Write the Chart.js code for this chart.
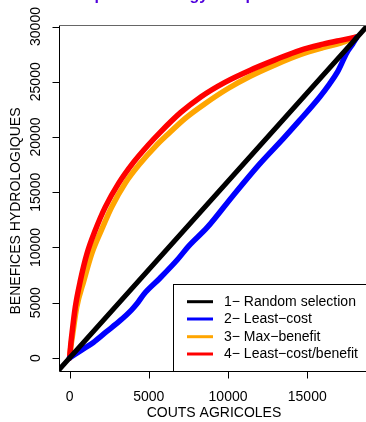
<!DOCTYPE html>
<html>
<head>
<meta charset="utf-8">
<script src="https://cdn.jsdelivr.net/npm/chart.js@4/dist/chart.umd.min.js"></script>
<style>
html,body{margin:0;padding:0;background:#fff;overflow:hidden;width:366px;height:422px;}
canvas{display:block;}
</style>
</head>
<body>
<canvas id="c" width="380" height="422"></canvas>
<script>
// ---- data ----
const chartTitle = "Optimal strategy comparison";
const xAxisTitle = "COUTS AGRICOLES";
const yAxisTitle = "BENEFICES HYDROLOGIQUES";
const xTicks = [0, 5000, 10000, 15000];
const yTicks = [0, 5000, 10000, 15000, 20000, 25000, 30000];
const seriesLabels = ["1\u2212 Random selection", "2\u2212 Least\u2212cost", "3\u2212 Max\u2212benefit", "4\u2212 Least\u2212cost/benefit"];
const seriesColors = ["#000000", "#0000ff", "#ffa500", "#ff0000"];

const randomX = [-2000, 20000];
const randomY = [-3200, 32000];

const leastCostX = [0, 700, 1500, 2350, 3200, 3900, 4300, 4700, 5700, 6800, 7500, 8700, 10300, 12000, 13500, 14500, 15800, 16400, 16900, 17300, 17500, 17850, 18120];
const leastCostY = [0, 667, 1404, 2402, 3400, 4340, 5000, 5800, 7220, 8889, 10100, 11838, 14670, 17571, 19880, 21480, 23651, 24792, 25863, 27046, 27638, 28379, 28992];

const maxBenefitX = [0, 80, 200, 450, 900, 1400, 2000, 2650, 3500, 4450, 5450, 6150, 7300, 8500, 10000, 11400, 13000, 14550, 16000, 17100, 18100];
const maxBenefitY = [0, 1000, 2200, 4600, 7000, 9450, 11550, 13650, 15800, 17600, 19200, 20170, 21690, 22970, 24390, 25500, 26550, 27450, 28080, 28500, 29050];

const ratioX = [0, 60, 150, 360, 680, 1100, 1620, 2250, 3090, 4030, 4980, 5700, 7000, 8300, 9800, 11400, 13000, 14550, 16000, 17100, 18100];
const ratioY = [0, 1000, 2200, 4600, 7000, 9450, 11550, 13650, 15800, 17700, 19300, 20400, 22200, 23650, 24950, 26050, 27000, 27850, 28400, 28750, 29050];

const xMin = -668, xMax = 18897;
const yMin = -1177, yMax = 30136;

function pts(xs, ys){ return xs.map((x,i)=>({x:x, y:ys[i]})); }

const FONT = '"Liberation Sans", Arial, sans-serif';

const decor = {
  id: 'decor',
  afterDatasetsDraw(chart){
    const ctx = chart.ctx;
    const a = chart.chartArea;
    const xs = chart.scales.x, ys = chart.scales.y;
    ctx.save();
    const L = Math.round(a.left)+0.5, B = Math.round(a.bottom)+0.5, T = Math.round(a.top)+0.5, R = Math.round(a.right)+0.5;
    ctx.lineWidth = 1;
    ctx.strokeStyle = '#000';
    ctx.beginPath();
    ctx.moveTo(L, T); ctx.lineTo(L, B); ctx.lineTo(R, B); ctx.lineTo(R, T);
    ctx.stroke();
    ctx.strokeStyle = '#666';
    ctx.beginPath(); ctx.moveTo(L, T); ctx.lineTo(R, T); ctx.stroke();
    ctx.strokeStyle = '#000';
    ctx.beginPath();
    yTicks.forEach(v=>{ const p = Math.round(ys.getPixelForValue(v))+0.5; ctx.moveTo(L-7, p); ctx.lineTo(L, p); });
    xTicks.forEach(v=>{ const p = Math.round(xs.getPixelForValue(v))+0.5; ctx.moveTo(p, B); ctx.lineTo(p, B+7); });
    ctx.stroke();
    ctx.fillStyle = '#000';
    ctx.font = '14px ' + FONT;
    ctx.textAlign = 'center';
    ctx.textBaseline = 'middle';
    xTicks.forEach(v=>{ ctx.fillText(String(v), xs.getPixelForValue(v), 397); });
    yTicks.forEach(v=>{
      ctx.save();
      ctx.translate(36, ys.getPixelForValue(v));
      ctx.rotate(-Math.PI/2);
      ctx.fillText(String(v), 0, 0);
      ctx.restore();
    });
    ctx.fillText(xAxisTitle, (a.left+a.right)/2, 413);
    ctx.save();
    ctx.translate(16.5, 211);
    ctx.rotate(-Math.PI/2);
    ctx.fillText(yAxisTitle, 0, 0);
    ctx.restore();
    // main title, mostly cut off above the top edge
    ctx.font = 'bold 16px ' + FONT;
    ctx.fillStyle = '#5000dc';
    ctx.textAlign = 'left';
    ctx.textBaseline = 'alphabetic';
    ctx.fillText(chartTitle, 82, -0.5);
    // legend
    const lx = 173.5, ly = 284.5;
    ctx.fillStyle = '#fff';
    ctx.fillRect(lx, ly, R - lx, B - ly);
    ctx.strokeStyle = '#000';
    ctx.lineWidth = 1;
    ctx.strokeRect(lx, ly, R - lx + 5, B - ly);
    const rows = [301.7, 319, 336.7, 354];
    ctx.font = '14px ' + FONT;
    ctx.textBaseline = 'middle';
    seriesLabels.forEach((lab, i)=>{
      ctx.strokeStyle = seriesColors[i];
      ctx.lineWidth = 3;
      ctx.beginPath(); ctx.moveTo(187, rows[i]); ctx.lineTo(213, rows[i]); ctx.stroke();
      ctx.fillStyle = '#000';
      ctx.fillText(lab, 224, rows[i]);
    });
    ctx.restore();
  }
};

new Chart(document.getElementById('c'), {
  type: 'line',
  data: {
    datasets: [
      { label: seriesLabels[0], data: pts(randomX, randomY), borderColor: seriesColors[0], borderWidth: 5, order: 0 },
      { label: seriesLabels[1], data: pts(leastCostX, leastCostY), borderColor: seriesColors[1], borderWidth: 5.5, order: 1, cubicInterpolationMode: 'monotone' },
      { label: seriesLabels[2], data: pts(maxBenefitX, maxBenefitY), borderColor: seriesColors[2], borderWidth: 5.5, order: 3, cubicInterpolationMode: 'monotone' },
      { label: seriesLabels[3], data: pts(ratioX, ratioY), borderColor: seriesColors[3], borderWidth: 5.5, order: 2, cubicInterpolationMode: 'monotone' }
    ]
  },
  options: {
    responsive: false,
    animation: false,
    devicePixelRatio: 1,
    layout: { padding: { left: 59, top: 25, right: 11, bottom: 51 } },
    elements: {
      point: { radius: 0, hoverRadius: 0 },
      line: { tension: 0, fill: false, borderCapStyle: 'round', borderJoinStyle: 'round' }
    },
    datasets: { line: { clip: 0 } },
    plugins: { legend: { display: false }, tooltip: { enabled: false }, title: { display: false } },
    scales: {
      x: { type: 'linear', min: xMin, max: xMax, display: false },
      y: { type: 'linear', min: yMin, max: yMax, display: false }
    }
  },
  plugins: [decor]
});
</script>
</body>
</html>
